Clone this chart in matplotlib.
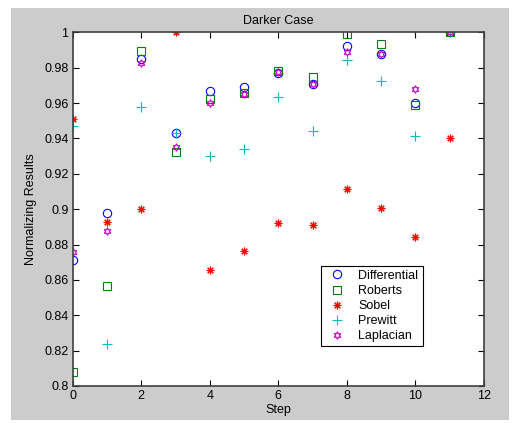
import numpy as np
import matplotlib.pyplot as plt
from matplotlib.patches import Rectangle

plt.rcParams['font.family'] = ['Liberation Sans', 'DejaVu Sans']
plt.rcParams['font.size'] = 9

# values
steps = list(range(12))
differential = [0.871, 0.898, 0.985, 0.943, 0.967, 0.969, 0.977, 0.971, 0.992, 0.988, 0.960, 1.000]
roberts = [0.808, 0.8565, 0.9896, 0.9325, 0.9623, 0.9658, 0.9783, 0.9749, 0.9989, 0.9934, 0.9589, 1.000]
sobel = [0.951, 0.893, 0.900, 1.000, 0.8656, 0.8763, 0.8923, 0.891, 0.9114, 0.9005, 0.884, 0.9404]
prewitt = [0.947, 0.824, 0.958, 0.943, 0.930, 0.934, 0.9636, 0.9444, 0.9843, 0.9726, 0.9415, 1.000]
laplacian = [0.876, 0.8876, 0.9825, 0.9353, 0.960, 0.965, 0.9774, 0.9708, 0.9887, 0.988, 0.968, 1.000]

fig = plt.figure(figsize=(5.19, 4.23), dpi=100)
fig.patch.set_facecolor('white')
# grey window background
fig.patches.append(Rectangle((11 / 519, 3 / 423), 498 / 519, 412 / 423,
                             transform=fig.transFigure, facecolor='#cccccc',
                             edgecolor='none', zorder=-1))

ax = fig.add_axes([72.7 / 519, 1 - 386 / 423, (484 - 72.7) / 519, (386 - 32.3) / 423])
ax.set_facecolor('white')

ms = 6
ax.plot(steps, differential, 'o', color='#0000ff', mfc='none', ms=ms, mew=0.8, label='Differential')
ax.plot(steps, roberts, 's', color='#008000', mfc='none', ms=ms, mew=0.8, label='Roberts')
ax.plot(steps, sobel, marker=(8, 2, 0), ls='none', color='#ff0000', ms=ms - 0.5, mew=0.8, label='Sobel')
ax.plot(steps, prewitt, '+', color='#00bfbf', ms=ms + 1, mew=0.8, label='Prewitt')
ax.plot(steps, laplacian, marker=(6, 1, 0), ls='none', color='#bf00bf', mfc='none', ms=ms - 0.5, mew=0.8, label='Laplacian')

ax.set_xlim(0, 12)
ax.set_ylim(0.8, 1.0)
ax.set_xticks(np.arange(0, 13, 2))
ax.set_yticks(np.arange(0.8, 1.001, 0.02))
ax.set_yticklabels(['0.8', '0.82', '0.84', '0.86', '0.88', '0.9', '0.92', '0.94', '0.96', '0.98', '1'])
ax.tick_params(direction='in', length=4, width=0.8, top=True, right=True, pad=3)

for s in ax.spines.values():
    s.set_color('#404040')
    s.set_linewidth(1.2)

ax.set_title('Darker Case', fontsize=9, pad=6)
ax.set_xlabel('Step', labelpad=1)
ax.set_ylabel('Normalizing Results', labelpad=5)

leg = ax.legend(loc='lower left', bbox_to_anchor=((320.7 - 72.7) / 411.3, (386 - 346) / 353.7,
                                                   (423.3 - 320.7) / 411.3, (346 - 258.3) / 353.7),
                mode='expand', fancybox=False, framealpha=1, edgecolor='black',
                borderpad=0.3, labelspacing=0.25, handlelength=2.0, handletextpad=0.7,
                borderaxespad=0)
leg.get_frame().set_linewidth(0.8)

fig.savefig('out.png', dpi=100, facecolor=fig.get_facecolor())
